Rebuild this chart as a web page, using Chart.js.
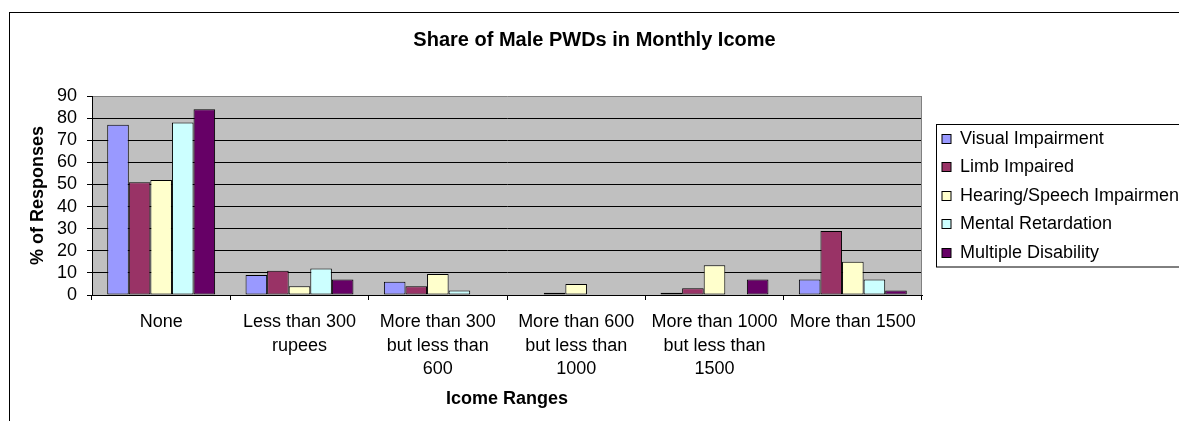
<!DOCTYPE html>
<html>
<head>
<meta charset="utf-8">
<title>Share of Male PWDs in Monthly Icome</title>
<script src="https://cdn.jsdelivr.net/npm/chart.js@4"></script>
<style>
  html, body { margin: 0; padding: 0; background: #fff; overflow: hidden; }
  #wrap { width: 1179px; height: 421px; }
</style>
</head>
<body>
<div id="wrap"><canvas id="incomeChart" width="1179" height="421"></canvas></div>
<script>
// income categories (multi-line labels as in the original)
const incomeRanges = [
  'None',
  ['Less than 300', 'rupees'],
  ['More than 300', 'but less than', '600'],
  ['More than 600', 'but less than', '1000'],
  ['More than 1000', 'but less than', '1500'],
  'More than 1500'
];

// % of responses per disability group
const visualImpairment = [77, 9, 6, 0, 1, 7];
const limbImpaired = [51, 11, 4, 1, 3, 29];
const hearingSpeech = [52, 4, 9.5, 5, 13.5, 15];
const mentalRetardation = [78, 12, 2, 0, 0, 7];
const multipleDisability = [84, 7, 0, 0, 7, 2];

const yTicks = [0, 10, 20, 30, 40, 50, 60, 70, 80, 90];

const FONT = '"Liberation Sans", Arial, sans-serif';
const LEGEND_WIDTH = 257;

Chart.defaults.color = '#000';
Chart.defaults.font.family = FONT;

// sheet border + gray plot background
const sheetPlugin = {
  id: 'sheet',
  beforeDraw(chart) {
    const { ctx, chartArea } = chart;
    ctx.save();
    ctx.strokeStyle = '#000';
    ctx.lineWidth = 1;
    ctx.strokeRect(9.5, 12.5, 1400, 600);
    ctx.fillStyle = '#c0c0c0';
    ctx.fillRect(chartArea.left, chartArea.top, chartArea.right - chartArea.left, chartArea.bottom - chartArea.top);
    ctx.restore();
  },
  beforeDatasetsDraw(chart) {
    const { ctx, chartArea } = chart;
    ctx.save();
    ctx.strokeStyle = '#808080';
    ctx.lineWidth = 1;
    ctx.beginPath();
    ctx.moveTo(Math.round(chartArea.right) - 0.5, chartArea.top);
    ctx.lineTo(Math.round(chartArea.right) - 0.5, chartArea.bottom);
    ctx.stroke();
    ctx.restore();
  }
};

function drawLegend(chart, box) {
  const ctx = chart.ctx;
  const area = chart.chartArea;
  const sets = chart.data.datasets;
  const rowH = 28.5;
  const boxH = rowH * sets.length;
  const top = Math.round((area.top + area.bottom) / 2 - boxH / 2) + 0.5;
  const left = Math.round(box.left) + 14.5;

  ctx.save();
  ctx.strokeStyle = '#000';
  ctx.lineWidth = 1;
  ctx.strokeRect(left, top, 400, boxH);
  ctx.font = '18px ' + FONT;
  ctx.textBaseline = 'middle';
  ctx.textAlign = 'left';
  sets.forEach((ds, i) => {
    const cy = top + rowH * (i + 0.5);
    const sy = Math.round(cy - 5) + 0.5;
    ctx.fillStyle = ds.backgroundColor;
    ctx.fillRect(left + 5.5, sy, 9, 9);
    ctx.strokeStyle = '#000';
    ctx.strokeRect(left + 5.5, sy, 9, 9);
    ctx.fillStyle = '#000';
    ctx.fillText(ds.label, left + 23.5, cy);
  });
  ctx.restore();
}

// legend as its own layout box on the right, so the title stays centred on the page
const boxedLegend = {
  id: 'boxedLegend',
  beforeInit(chart) {
    const box = {
      position: 'right',
      weight: 0,
      fullSize: false,
      options: {},
      isHorizontal() { return false; },
      update(maxWidth, maxHeight) {
        this.width = LEGEND_WIDTH;
        this.height = maxHeight;
      },
      draw() { drawLegend(chart, this); }
    };
    Chart.layouts.addBox(chart, box);
  }
};

function makeDataset(label, values, color) {
  return {
    label: label,
    data: values,
    backgroundColor: color,
    borderColor: '#000',
    borderWidth: 1,
    borderSkipped: false,
    barPercentage: 1,
    categoryPercentage: 0.78
  };
}

const ctx = document.getElementById('incomeChart').getContext('2d');

new Chart(ctx, {
  type: 'bar',
  data: {
    labels: incomeRanges,
    datasets: [
      makeDataset('Visual Impairment', visualImpairment, '#9999ff'),
      makeDataset('Limb Impaired', limbImpaired, '#993366'),
      makeDataset('Hearing/Speech Impairment', hearingSpeech, '#ffffcc'),
      makeDataset('Mental Retardation', mentalRetardation, '#ccffff'),
      makeDataset('Multiple Disability', multipleDisability, '#660066')
    ]
  },
  options: {
    responsive: false,
    animation: false,
    devicePixelRatio: 1,
    layout: { padding: { left: 10, top: 12, right: 0, bottom: 0 } },
    plugins: {
      legend: { display: false },
      tooltip: { enabled: false },
      title: {
        display: true,
        text: 'Share of Male PWDs in Monthly Icome',
        color: '#000',
        font: { size: 20, weight: 'bold' },
        padding: { top: 16, bottom: 44 }
      }
    },
    scales: {
      x: {
        grid: {
          offset: true,
          drawOnChartArea: false,
          drawTicks: true,
          tickLength: 5,
          color: '#000'
        },
        border: { display: true, color: '#000' },
        ticks: {
          autoSkip: false,
          maxRotation: 0,
          minRotation: 0,
          padding: 11,
          font: { size: 18, lineHeight: 1.28 }
        },
        title: {
          display: true,
          text: 'Icome Ranges',
          font: { size: 18, weight: 'bold' },
          padding: { top: 0, bottom: 11 }
        },
        afterFit(scale) { scale.height = 126; }
      },
      y: {
        min: 0,
        max: 90,
        afterBuildTicks(scale) { scale.ticks = yTicks.map(v => ({ value: v })); },
        grid: {
          color: (c) => (c.tick && c.tick.value === 90 ? '#808080' : '#000'),
          tickColor: '#000',
          drawTicks: true,
          tickLength: 5
        },
        border: { display: true, color: '#000' },
        ticks: {
          autoSkip: false,
          padding: 10,
          font: { size: 18, lineHeight: 1 }
        },
        title: {
          display: true,
          text: '% of Responses',
          font: { size: 18, weight: 'bold' },
          padding: { top: 17, bottom: 0 }
        },
        afterFit(scale) { scale.width = 82; }
      }
    }
  },
  plugins: [sheetPlugin, boxedLegend]
});

console.log('chart drawn');
</script>
</body>
</html>
